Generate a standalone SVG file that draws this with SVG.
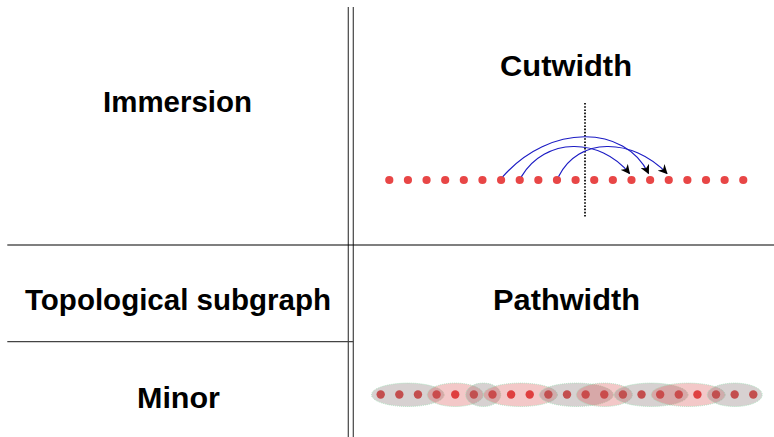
<svg xmlns="http://www.w3.org/2000/svg" width="774" height="437" viewBox="0 0 774 437">
  <style>
    .lbl { font-family: "Liberation Sans", Arial, sans-serif; font-weight: bold; font-size: 29px; fill: #000; text-anchor: middle; }
    .grid { stroke: #000; stroke-width: 1.2; fill: none; }
    .grid2 { stroke: #444; stroke-width: 1.2; fill: none; }
    .dot { fill: #e84646; }
    .pdot { fill: #e23c3c; }
    .arc { stroke: #1c1cc4; stroke-width: 1.2; fill: none; marker-end: url(#tip); }
    .bagG { fill: #867474; fill-opacity: 0.33; stroke: #a8e0bc; stroke-width: 0.9; stroke-dasharray: 1 1; }
    .bagR { fill: #d84a4a; fill-opacity: 0.3; stroke: #a8e0bc; stroke-width: 0.9; stroke-dasharray: 1 1; }
  </style>
  <defs>
    <marker id="tip" viewBox="0 0 10 10" refX="9" refY="5" markerWidth="9.5" markerHeight="9.5" markerUnits="userSpaceOnUse" orient="auto">
      <path d="M0,0 L10,5 L0,10 L3,5 z" fill="#000"/>
    </marker>
  </defs>

  <g id="grid">
    <line class="grid2" x1="348.3" y1="7" x2="348.3" y2="437"/>
    <line class="grid2" x1="353.3" y1="7" x2="353.3" y2="437"/>
    <line class="grid" x1="7.3" y1="245" x2="774" y2="245"/>
    <line class="grid2" x1="7.3" y1="341.7" x2="353.3" y2="341.7"/>
  </g>

  <g id="immersion"><text class="lbl" x="177.5" y="112" textLength="149" lengthAdjust="spacingAndGlyphs">Immersion</text></g>
  <g id="cutwidth-title"><text class="lbl" x="566" y="76" textLength="132" lengthAdjust="spacingAndGlyphs">Cutwidth</text></g>
  <g id="topological"><text class="lbl" x="178" y="310" textLength="306" lengthAdjust="spacingAndGlyphs">Topological subgraph</text></g>
  <g id="pathwidth-title"><text class="lbl" x="566.5" y="310" textLength="147" lengthAdjust="spacingAndGlyphs">Pathwidth</text></g>
  <g id="minor"><text class="lbl" x="178.5" y="408" textLength="83" lengthAdjust="spacingAndGlyphs">Minor</text></g>

  <g id="cut-line">
    <line x1="585" y1="103" x2="585" y2="217" stroke="#000" stroke-width="1.7" stroke-dasharray="1.6 1.6"/>
  </g>

  <g id="cutwidth-dots">
    <circle class="dot" cx="389.30" cy="180" r="4.1"/>
    <circle class="dot" cx="407.93" cy="180" r="4.1"/>
    <circle class="dot" cx="426.56" cy="180" r="4.1"/>
    <circle class="dot" cx="445.19" cy="180" r="4.1"/>
    <circle class="dot" cx="463.82" cy="180" r="4.1"/>
    <circle class="dot" cx="482.45" cy="180" r="4.1"/>
    <circle class="dot" cx="501.08" cy="180" r="4.1"/>
    <circle class="dot" cx="519.71" cy="180" r="4.1"/>
    <circle class="dot" cx="538.34" cy="180" r="4.1"/>
    <circle class="dot" cx="556.97" cy="180" r="4.1"/>
    <circle class="dot" cx="575.60" cy="180" r="4.1"/>
    <circle class="dot" cx="594.23" cy="180" r="4.1"/>
    <circle class="dot" cx="612.86" cy="180" r="4.1"/>
    <circle class="dot" cx="631.49" cy="180" r="4.1"/>
    <circle class="dot" cx="650.12" cy="180" r="4.1"/>
    <circle class="dot" cx="668.75" cy="180" r="4.1"/>
    <circle class="dot" cx="687.38" cy="180" r="4.1"/>
    <circle class="dot" cx="706.01" cy="180" r="4.1"/>
    <circle class="dot" cx="724.64" cy="180" r="4.1"/>
    <circle class="dot" cx="743.27" cy="180" r="4.1"/>
  </g>

  <g id="connectors">
    <path class="arc" d="M 502.8 176.6 C 550 123, 625 125, 648.5 173.5"/>
    <path class="arc" d="M 521.4 176.6 C 545 137, 600 137, 629.5 173.5"/>
    <path class="arc" d="M 558.6 176.6 C 578 137, 632 137, 667 173.5"/>
  </g>

  <g id="pathwidth-dots">
    <circle class="pdot" cx="380.70" cy="394.5" r="4.2"/>
    <circle class="pdot" cx="399.33" cy="394.5" r="4.2"/>
    <circle class="pdot" cx="417.96" cy="394.5" r="4.2"/>
    <circle class="pdot" cx="436.59" cy="394.5" r="4.2"/>
    <circle class="pdot" cx="455.22" cy="394.5" r="4.2"/>
    <circle class="pdot" cx="473.85" cy="394.5" r="4.2"/>
    <circle class="pdot" cx="492.48" cy="394.5" r="4.2"/>
    <circle class="pdot" cx="511.11" cy="394.5" r="4.2"/>
    <circle class="pdot" cx="529.74" cy="394.5" r="4.2"/>
    <circle class="pdot" cx="548.37" cy="394.5" r="4.2"/>
    <circle class="pdot" cx="567.00" cy="394.5" r="4.2"/>
    <circle class="pdot" cx="585.63" cy="394.5" r="4.2"/>
    <circle class="pdot" cx="604.26" cy="394.5" r="4.2"/>
    <circle class="pdot" cx="622.89" cy="394.5" r="4.2"/>
    <circle class="pdot" cx="641.52" cy="394.5" r="4.2"/>
    <circle class="pdot" cx="660.15" cy="394.5" r="4.2"/>
    <circle class="pdot" cx="678.78" cy="394.5" r="4.2"/>
    <circle class="pdot" cx="697.41" cy="394.5" r="4.2"/>
    <circle class="pdot" cx="716.04" cy="394.5" r="4.2"/>
    <circle class="pdot" cx="734.67" cy="394.5" r="4.2"/>
    <circle class="pdot" cx="753.30" cy="394.5" r="4.2"/>
  </g>

  <g id="bags">
    <ellipse class="bagG" cx="407.8" cy="394.8" rx="36.3" ry="11.7"/>
    <ellipse class="bagR" cx="455.2" cy="394.8" rx="28" ry="11.7"/>
    <ellipse class="bagG" cx="483.2" cy="394.8" rx="17.5" ry="11.7"/>
    <ellipse class="bagR" cx="520.4" cy="394.8" rx="37" ry="11.7"/>
    <ellipse class="bagG" cx="576.3" cy="394.8" rx="37" ry="11.7"/>
    <ellipse class="bagR" cx="604.3" cy="394.8" rx="28" ry="11.7"/>
    <ellipse class="bagG" cx="651.0" cy="394.8" rx="37" ry="11.7"/>
    <ellipse class="bagR" cx="688.1" cy="394.8" rx="37" ry="11.7"/>
    <ellipse class="bagG" cx="734.7" cy="394.8" rx="27.5" ry="11.7"/>
  </g>
</svg>
